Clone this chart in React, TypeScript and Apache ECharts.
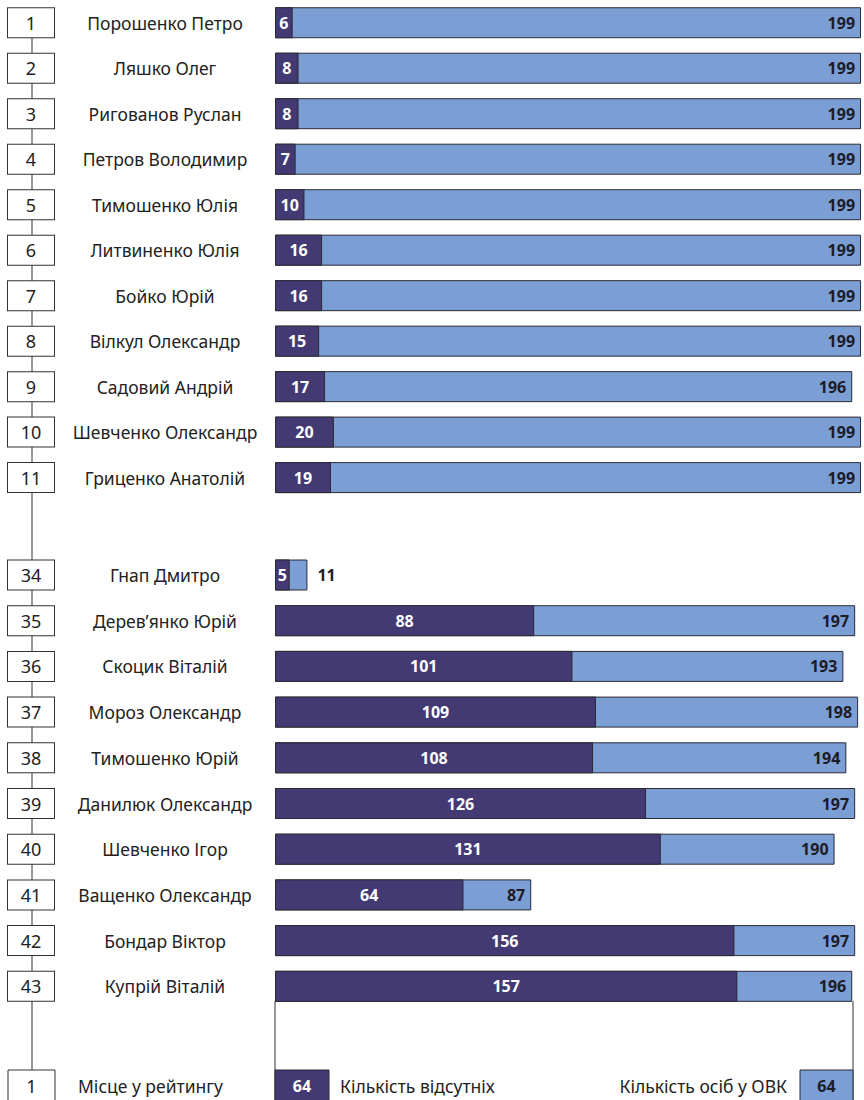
import React, { useEffect, useRef } from "react";
import * as echarts from "echarts";

const topRanks = ["1", "2", "3", "4", "5", "6", "7", "8", "9", "10", "11"];
const topNames = [
  "Порошенко Петро", "Ляшко Олег", "Ригованов Руслан", "Петров Володимир", "Тимошенко Юлія",
  "Литвиненко Юлія", "Бойко Юрій", "Вілкул Олександр", "Садовий Андрій", "Шевченко Олександр",
  "Гриценко Анатолій",
];
const topAbsent = [6, 8, 8, 7, 10, 16, 16, 15, 17, 20, 19];
const topMembers = [199, 199, 199, 199, 199, 199, 199, 199, 196, 199, 199];

const bottomRanks = ["34", "35", "36", "37", "38", "39", "40", "41", "42", "43"];
const bottomNames = [
  "Гнап Дмитро", "Дерев’янко Юрій", "Скоцик Віталій", "Мороз Олександр", "Тимошенко Юрій",
  "Данилюк Олександр", "Шевченко Ігор", "Ващенко Олександр", "Бондар Віктор", "Купрій Віталій",
];
const bottomAbsent = [5, 88, 101, 109, 108, 126, 131, 64, 156, 157];
const bottomMembers = [11, 197, 193, 198, 194, 197, 190, 87, 197, 196];

const legendRank = "1";
const legendRankText = "Місце у рейтингу";
const legendAbsentValue = 64;
const legendAbsentText = "Кількість відсутніх";
const legendMembersValue = 64;
const legendMembersText = "Кількість осіб у ОВК";

const DARK = "#433a73";
const LIGHT = "#7b9fd4";
const BORDER = "#2a2a35";
const FONT = "Noto Sans";
const NAME_SIZE = 17.5;
const VALUE_SIZE = 16;

export default function App() {
  const ref = useRef<HTMLDivElement>(null);
  useEffect(() => {
    if (!ref.current) return;
    const chart = echarts.init(ref.current, null, { renderer: "svg" });
    const rowH = 45.7;
    const grids = [
      { top: 20.5 - rowH / 2, height: rowH * topNames.length },
      { top: 575 - rowH / 2, height: rowH * bottomNames.length },
    ];
    const groups = [
      { ranks: topRanks, names: topNames, absent: topAbsent, members: topMembers },
      { ranks: bottomRanks, names: bottomNames, absent: bottomAbsent, members: bottomMembers },
    ];
    const labelKeys = (g: any) => g.names.map((n: string, i: number) => g.ranks[i] + "|" + n);

    const series: any[] = [];
    groups.forEach((g, gi) => {
      series.push({
        type: "bar",
        xAxisIndex: gi,
        yAxisIndex: gi,
        barWidth: 31,
        barGap: "-100%",
        z: 2,
        itemStyle: { color: LIGHT, borderColor: BORDER, borderWidth: 1 },
        label: {
          show: true,
          position: "insideRight",
          distance: 6,
          color: "#1c1c28",
          fontFamily: FONT,
          fontWeight: "bold",
          fontSize: VALUE_SIZE,
        },
        data: g.members.map((v: number) =>
          v < 30
            ? { value: v, label: { position: "right", distance: 10 } }
            : { value: v }
        ),
      });
      series.push({
        type: "bar",
        xAxisIndex: gi,
        yAxisIndex: gi,
        barWidth: 31,
        barGap: "-100%",
        z: 3,
        itemStyle: { color: DARK, borderColor: BORDER, borderWidth: 1 },
        label: {
          show: true,
          position: "inside",
          color: "#ffffff",
          fontFamily: FONT,
          fontWeight: "bold",
          fontSize: VALUE_SIZE,
        },
        data: g.absent,
      });
    });

    const axisLabel = {
      align: "left",
      margin: 267,
      formatter: (v: string) => {
        const [r, n] = v.split("|");
        return `{r|${r}}{n|${n}}`;
      },
      rich: {
        r: {
          width: 46,
          height: 29,
          align: "center",
          borderColor: "#333",
          borderWidth: 1,
          backgroundColor: "#fff",
          fontFamily: FONT,
          fontSize: 18,
          color: "#222",
        },
        n: {
          width: 222,
          align: "center",
          fontFamily: FONT,
          fontSize: NAME_SIZE,
          color: "#222",
        },
      },
    };

    const legendY = 1070;
    chart.setOption({
      animation: false,
      grid: grids.map((g) => ({ left: 275, width: 590, top: g.top, height: g.height })),
      xAxis: groups.map((_, gi) => ({
        type: "value",
        gridIndex: gi,
        min: 0,
        max: 200,
        show: false,
      })),
      yAxis: groups.map((g, gi) => ({
        type: "category",
        gridIndex: gi,
        inverse: true,
        data: labelKeys(g),
        z: 10,
        axisLine: { show: false },
        axisTick: { show: false },
        axisLabel,
      })),
      series,
      graphic: [
        {
          type: "line",
          z: 0,
          shape: { x1: 32, y1: 20, x2: 32, y2: 1085 },
          style: { stroke: "#333", lineWidth: 1 },
        },
        {
          type: "line",
          z: 0,
          shape: { x1: 275, y1: 1001, x2: 275, y2: 1100 },
          style: { stroke: "#333", lineWidth: 1 },
        },
        {
          type: "line",
          z: 0,
          shape: { x1: 853, y1: 1001, x2: 853, y2: 1100 },
          style: { stroke: "#333", lineWidth: 1 },
        },
        {
          type: "rect",
          z: 5,
          shape: { x: 8, y: legendY, width: 47, height: 31 },
          style: { fill: "#fff", stroke: "#333", lineWidth: 1 },
        },
        {
          type: "text",
          z: 6,
          x: 31.5,
          y: legendY + 16,
          style: {
            text: legendRank, fontFamily: FONT, fontSize: 18, fill: "#222",
            align: "center", verticalAlign: "middle",
          },
        },
        {
          type: "text",
          z: 6,
          x: 78,
          y: legendY + 16,
          style: {
            text: legendRankText, fontFamily: FONT, fontSize: NAME_SIZE, fill: "#222",
            align: "left", verticalAlign: "middle",
          },
        },
        {
          type: "rect",
          z: 5,
          shape: { x: 275, y: legendY, width: 54, height: 31 },
          style: { fill: DARK, stroke: BORDER, lineWidth: 1 },
        },
        {
          type: "text",
          z: 6,
          x: 302,
          y: legendY + 16,
          style: {
            text: String(legendAbsentValue), fontFamily: FONT, fontSize: VALUE_SIZE, fontWeight: "bold",
            fill: "#fff", align: "center", verticalAlign: "middle",
          },
        },
        {
          type: "text",
          z: 6,
          x: 340,
          y: legendY + 16,
          style: {
            text: legendAbsentText, fontFamily: FONT, fontSize: NAME_SIZE, fill: "#222",
            align: "left", verticalAlign: "middle",
          },
        },
        {
          type: "text",
          z: 6,
          x: 787,
          y: legendY + 16,
          style: {
            text: legendMembersText, fontFamily: FONT, fontSize: NAME_SIZE, fill: "#222",
            align: "right", verticalAlign: "middle",
          },
        },
        {
          type: "rect",
          z: 5,
          shape: { x: 800, y: legendY, width: 53, height: 31 },
          style: { fill: LIGHT, stroke: BORDER, lineWidth: 1 },
        },
        {
          type: "text",
          z: 6,
          x: 826.5,
          y: legendY + 16,
          style: {
            text: String(legendMembersValue), fontFamily: FONT, fontSize: VALUE_SIZE, fontWeight: "bold",
            fill: "#1c1c28", align: "center", verticalAlign: "middle",
          },
        },
      ],
    });
    return () => chart.dispose();
  }, []);
  return (
    <div
      ref={ref}
      style={{ position: "absolute", left: 0, top: 0, width: 864, height: 1100, background: "#fff" }}
    />
  );
}
